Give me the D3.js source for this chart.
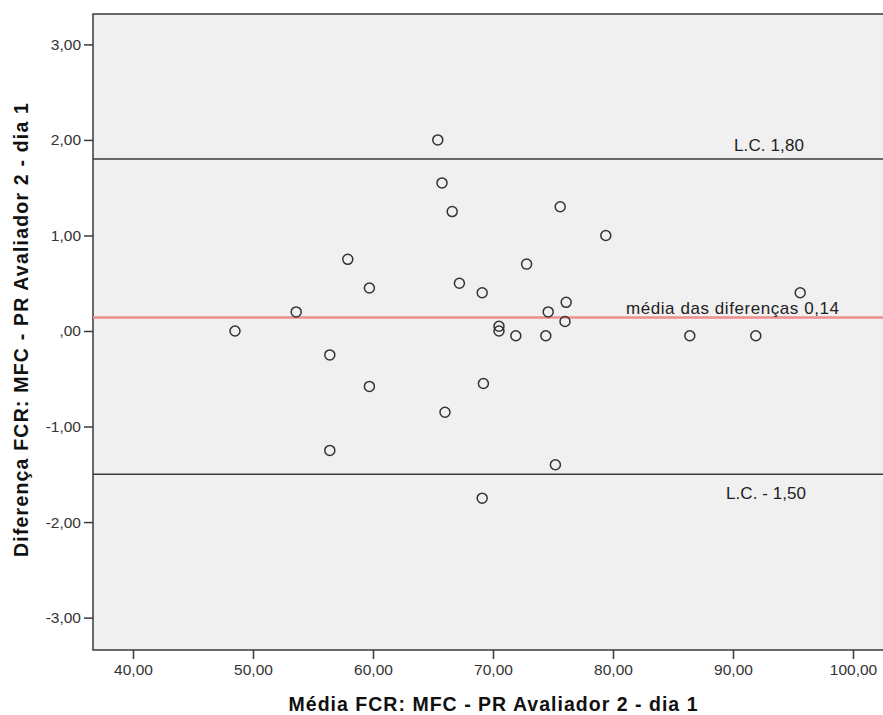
<!DOCTYPE html>
<html>
<head>
<meta charset="utf-8">
<script src="https://cdn.jsdelivr.net/npm/d3@7"></script>
<style>
  html, body { margin: 0; padding: 0; background: #ffffff; }
  svg { display: block; font-family: "Liberation Sans", Arial, sans-serif; }
</style>
</head>
<body>
<svg id="chart" width="883" height="715"></svg>
<script>
// ---- data ----
const meanValues = [48.5, 53.6, 56.4, 56.4, 57.9, 59.7, 59.7, 65.4, 65.75, 66.6, 66.0, 67.2, 69.1, 69.2, 69.1,
                    70.5, 70.5, 71.9, 72.8, 74.4, 74.6, 75.2, 75.6, 76.1, 76.0, 79.4, 86.4, 91.9, 95.6];
const diffValues = [0.00, 0.20, -0.25, -1.25, 0.75, 0.45, -0.58, 2.00, 1.55, 1.25, -0.85, 0.50, 0.40, -0.55, -1.75,
                    0.05, 0.00, -0.05, 0.70, -0.05, 0.20, -1.40, 1.30, 0.30, 0.10, 1.00, -0.05, -0.05, 0.40];
const xTicks = [40, 50, 60, 70, 80, 90, 100];
const xTickLabels = ["40,00", "50,00", "60,00", "70,00", "80,00", "90,00", "100,00"];
const yTicks = [-3, -2, -1, 0, 1, 2, 3];
const yTickLabels = ["-3,00", "-2,00", "-1,00", ",00", "1,00", "2,00", "3,00"];
const meanDiff = 0.14;
const upperLimit = 1.80;
const lowerLimit = -1.50;
const meanLabel = "média das diferenças 0,14";
const upperLabel = "L.C. 1,80";
const lowerLabel = "L.C. - 1,50";
const xTitle = "Média FCR: MFC - PR Avaliador 2 - dia 1";
const yTitle = "Diferença FCR: MFC - PR Avaliador 2 - dia 1";

// ---- layout ----
const pLeft = 93, pTop = 14, pRight = 883, pBottom = 650;
const svg = d3.select("#chart");

const x = d3.scaleLinear().domain([36.667, 102.5]).range([pLeft, pRight]);
const y = d3.scaleLinear().domain([-3.339, 3.318]).range([pBottom, pTop]);

// plot background + frame
svg.append("rect")
  .attr("x", pLeft).attr("y", pTop)
  .attr("width", pRight - pLeft + 4).attr("height", pBottom - pTop)
  .attr("fill", "#f0f0f0")
  .attr("stroke", "#3a3a3a").attr("stroke-width", 1.5);

// axes
const xAxis = d3.axisBottom(x).tickValues(xTicks)
  .tickFormat((d, i) => xTickLabels[i]).tickSize(9).tickPadding(5).tickSizeOuter(0);
const gx = svg.append("g").attr("transform", `translate(0,${pBottom})`).call(xAxis);
gx.select(".domain").remove();
gx.selectAll("line").attr("stroke", "#3a3a3a").attr("stroke-width", 1.5);
gx.selectAll("text").attr("fill", "#333").style("font-size", "15.5px");

const yAxis = d3.axisLeft(y).tickValues(yTicks)
  .tickFormat((d, i) => yTickLabels[i]).tickSize(9).tickPadding(3).tickSizeOuter(0);
const gy = svg.append("g").attr("transform", `translate(${pLeft},0)`).call(yAxis);
gy.select(".domain").remove();
gy.selectAll("line").attr("stroke", "#3a3a3a").attr("stroke-width", 1.5);
gy.selectAll("text").attr("fill", "#333").style("font-size", "15.5px");

// reference lines
svg.append("line")
  .attr("x1", pLeft).attr("x2", pRight).attr("y1", y(meanDiff)).attr("y2", y(meanDiff))
  .attr("stroke", "#f08e8e").attr("stroke-width", 2.5);
[upperLimit, lowerLimit].forEach(v => {
  svg.append("line")
    .attr("x1", pLeft).attr("x2", pRight).attr("y1", y(v)).attr("y2", y(v))
    .attr("stroke", "#3a3a3a").attr("stroke-width", 1.6);
});

// labels of reference lines
svg.append("text").attr("x", 626).attr("y", y(meanDiff) - 4)
  .attr("textLength", 213).attr("lengthAdjust", "spacing")
  .style("font-size", "17px").attr("fill", "#222").text(meanLabel);
svg.append("text").attr("x", 734).attr("y", y(upperLimit) - 8)
  .attr("textLength", 70).attr("lengthAdjust", "spacing")
  .style("font-size", "17px").attr("fill", "#222").text(upperLabel);
svg.append("text").attr("x", 726).attr("y", y(lowerLimit) + 25)
  .attr("textLength", 80).attr("lengthAdjust", "spacing")
  .style("font-size", "17px").attr("fill", "#222").text(lowerLabel);

// points
const pts = meanValues.map((m, i) => ({ m, d: diffValues[i] }));
svg.append("g").selectAll("circle").data(pts).join("circle")
  .attr("cx", p => x(p.m)).attr("cy", p => y(p.d)).attr("r", 5)
  .attr("fill", "none").attr("stroke", "#333").attr("stroke-width", 1.5);

// axis titles
svg.append("text").attr("x", 493).attr("y", 711)
  .attr("text-anchor", "middle").attr("textLength", 409).attr("lengthAdjust", "spacing")
  .style("font-size", "19.5px").style("font-weight", "bold").attr("fill", "#111").text(xTitle);
svg.append("text").attr("transform", `translate(28,330) rotate(-90)`)
  .attr("text-anchor", "middle").attr("textLength", 454).attr("lengthAdjust", "spacing")
  .style("font-size", "19.5px").style("font-weight", "bold").attr("fill", "#111").text(yTitle);
</script>
</body>
</html>
